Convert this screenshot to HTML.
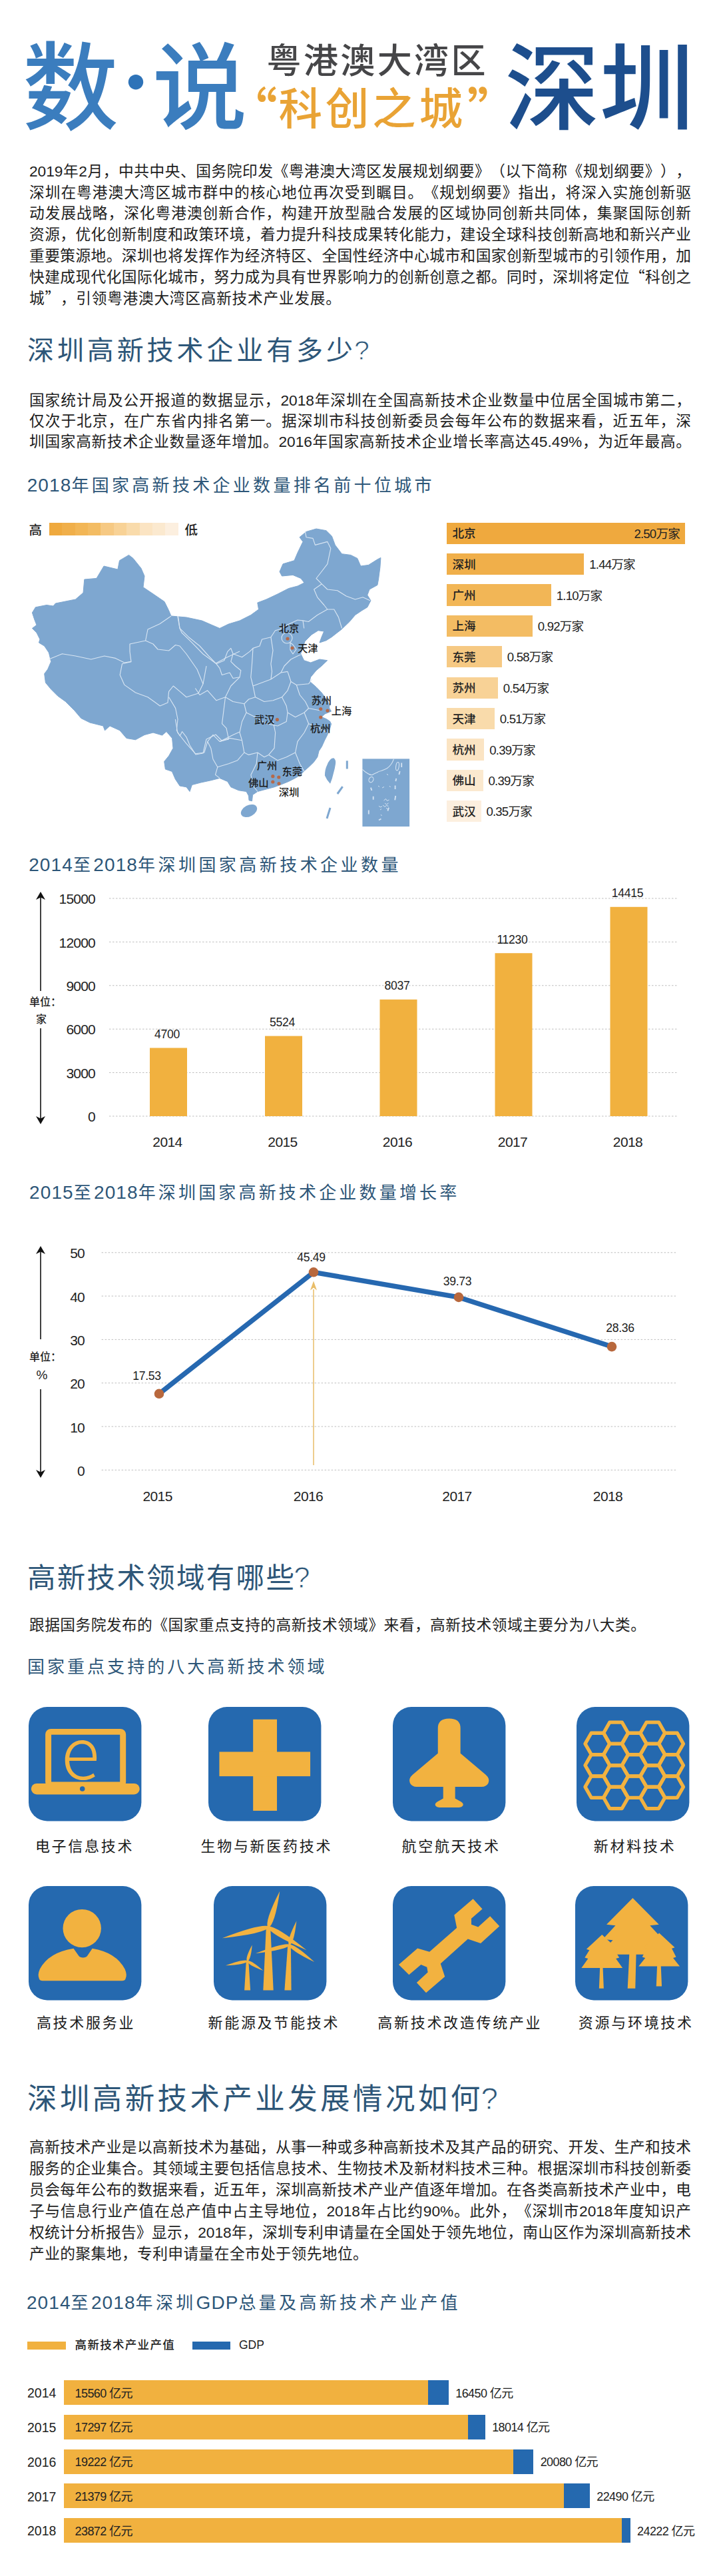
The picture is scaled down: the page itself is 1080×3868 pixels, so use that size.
<!DOCTYPE html>
<html lang="zh-CN">
<head>
<meta charset="utf-8">
<title>数·说 粤港澳大湾区“科创之城”深圳</title>
<style>
html,body{margin:0;padding:0;background:#fff;}
body{text-spacing-trim:space-all;font-family:"Liberation Sans","Noto Sans CJK SC",sans-serif;color:#1e1e1e;}
#p{position:relative;width:1080px;height:3868px;overflow:hidden;background:#fff;}
.t{position:absolute;white-space:nowrap;line-height:1;}
.j{position:absolute;left:44px;width:994px;white-space:nowrap;text-align:justify;text-align-last:justify;line-height:1;font-size:22.7px;color:#1e1e1e;}
.jl{position:absolute;left:44px;white-space:nowrap;line-height:1;font-size:22.7px;color:#1e1e1e;}
.h2{position:absolute;left:41px;white-space:nowrap;line-height:1;font-weight:400;color:#2d5678;}
.h3{position:absolute;left:41px;white-space:nowrap;line-height:1;font-weight:400;color:#2d5678;font-size:26px;letter-spacing:4.3px;}
.h3 i{font-style:normal;letter-spacing:1.1px;font-size:28px;line-height:0;}
.h2 b{font-weight:400;line-height:0;letter-spacing:0;margin-left:-0.07em;font-size:1.03em;-webkit-text-stroke:0.9px #fff;}
.b{position:absolute;}
svg{position:absolute;left:0;top:0;overflow:visible;}
.c{font-family:"Noto Sans CJK SC",sans-serif;line-height:0;}
svg text{font-family:"Liberation Sans","Noto Sans CJK SC",sans-serif;}
</style>
</head>
<body>
<div id="p">
<div class="t" style="top:63.3px;font-size:144.0px;left:34.0px;color:#3b7dbe;font-weight:500;">数</div>
<div class="t" style="top:85.5px;font-size:80.0px;left:204.0px;transform:translateX(-50%);color:#2e73b8;font-weight:900;"><span class="c">·</span></div>
<div class="t" style="top:63.3px;font-size:142.0px;left:229.0px;color:#3b7dbe;font-weight:500;">说</div>
<div class="t" style="top:65.9px;font-size:52.0px;left:400.5px;color:#464648;font-weight:500;letter-spacing:3.40px;">粤港澳大湾区</div>
<div class="t" style="top:131.5px;font-size:65.5px;left:418.5px;color:#e9a335;font-weight:500;letter-spacing:4.80px;">科创之城</div>
<div class="t" style="top:131.3px;font-size:78.0px;left:339.0px;color:#e9a335;font-weight:500;"><span class="c">“</span></div>
<div class="t" style="top:131.3px;font-size:78.0px;left:701.5px;color:#e9a335;font-weight:500;"><span class="c">”</span></div>
<div class="t" style="top:64.3px;font-size:142.0px;left:758.5px;color:#1d4e8d;font-weight:500;">深圳</div>
<div class="j" style="top:245.6px">2019年2月，中共中央、国务院印发《粤港澳大湾区发展规划纲要》（以下简称《规划纲要》），</div>
<div class="j" style="top:277.5px">深圳在粤港澳大湾区城市群中的核心地位再次受到瞩目。《规划纲要》指出，将深入实施创新驱</div>
<div class="j" style="top:309.4px">动发展战略，深化粤港澳创新合作，构建开放型融合发展的区域协同创新共同体，集聚国际创新</div>
<div class="j" style="top:341.3px">资源，优化创新制度和政策环境，着力提升科技成果转化能力，建设全球科技创新高地和新兴产业</div>
<div class="j" style="top:373.2px">重要策源地。深圳也将发挥作为经济特区、全国性经济中心城市和国家创新型城市的引领作用，加</div>
<div class="j" style="top:405.1px">快建成现代化国际化城市，努力成为具有世界影响力的创新创意之都。同时，深圳将定位<span class="c">“</span>科创之</div>
<div class="jl" style="top:437.0px;letter-spacing:0.74px">城<span class="c">”</span>，引领粤港澳大湾区高新技术产业发展。</div>
<div class="h2" style="top:506.0px;font-size:40px;letter-spacing:4.9px">深圳高新技术企业有多少<b>?</b></div>
<div class="j" style="top:589.5px">国家统计局及公开报道的数据显示，2018年深圳在全国高新技术企业数量中位居全国城市第二，</div>
<div class="j" style="top:620.5px">仅次于北京，在广东省内排名第一。据深圳市科技创新委员会每年公布的数据来看，近五年，深</div>
<div class="j" style="top:651.5px">圳国家高新技术企业数量逐年增加。2016年国家高新技术企业增长率高达45.49%，为近年最高。</div>
<div class="h3" style="left:40.7px;top:716.2px;"><i>2018</i>年国家高新技术企业数量排名前十位城市</div>
<svg width="1080" height="3868" viewBox="0 0 1080 3868">
<polygon points="48.4,920.0 53.4,911.8 70.0,908.5 80.0,910.0 83.4,906.0 113.4,900.0 125.0,890.0 126.8,870.0 145.0,868.4 156.0,850.0 176.9,855.0 179.5,841.7 193.5,833.4 200.0,838.4 212.0,853.4 217.0,865.0 215.0,881.7 230.0,891.8 247.0,903.4 253.6,916.8 257.0,925.0 280.0,927.0 303.4,932.0 318.4,938.5 330.0,943.5 343.4,937.0 360.0,932.0 376.8,923.5 388.5,915.0 386.8,905.0 400.0,900.0 417.0,892.0 433.6,883.5 447.0,880.0 457.0,875.0 452.0,868.5 440.0,863.4 423.5,865.0 420.0,858.4 425.0,846.8 442.0,841.7 447.0,830.0 455.0,813.4 450.0,806.7 460.0,798.4 475.0,794.0 490.0,796.7 498.4,805.0 503.4,818.4 513.5,831.7 526.8,833.4 536.8,838.4 541.8,850.0 553.5,848.4 566.9,840.0 571.9,837.4 570.9,851.8 568.5,870.0 566.9,878.5 555.0,885.0 551.8,893.5 556.9,901.8 551.8,911.8 543.5,916.8 533.5,923.5 525.0,933.5 513.0,945.0 498.0,956.7 490.0,961.7 480.0,965.0 483.0,956.7 486.7,948.0 478.0,946.7 468.0,953.0 458.0,963.0 455.0,971.7 451.7,981.7 456.7,991.7 466.7,995.0 480.0,990.0 491.7,991.7 483.0,1000.0 475.0,1006.7 466.7,1016.7 465.0,1023.0 475.0,1031.7 483.0,1040.0 491.7,1051.7 495.0,1058.0 494.5,1063.0 497.5,1068.0 488.0,1072.0 483.0,1076.5 490.0,1079.5 495.5,1083.0 497.5,1087.0 495.0,1096.0 491.0,1105.0 487.9,1111.0 483.4,1121.0 479.0,1127.8 476.8,1136.7 471.2,1144.5 464.5,1151.0 456.7,1157.9 450.0,1164.6 442.3,1169.0 433.4,1173.5 422.3,1178.0 412.0,1181.8 400.0,1185.0 386.9,1188.5 379.5,1193.5 378.5,1202.8 374.0,1201.8 373.5,1195.0 370.0,1188.5 358.5,1186.8 346.8,1181.8 341.8,1173.5 330.0,1168.4 316.8,1171.8 301.8,1175.0 288.4,1178.5 285.0,1188.5 280.0,1181.8 270.0,1180.0 263.4,1170.0 258.4,1158.4 248.4,1155.0 246.7,1143.4 253.6,1135.0 260.0,1123.5 258.6,1108.5 250.0,1098.5 243.6,1104.0 230.0,1100.0 217.0,1103.5 203.5,1110.8 190.0,1108.5 180.0,1096.8 165.0,1090.0 157.5,1096.8 155.0,1090.0 135.0,1085.0 121.8,1078.5 111.8,1066.8 98.4,1053.4 86.7,1045.0 76.7,1035.0 68.4,1025.0 66.7,1011.7 71.7,1005.0 76.7,993.4 73.4,980.0 66.7,970.0 58.4,965.0 60.0,960.0 55.0,950.0 48.4,943.5 55.0,938.5 51.7,930.0" fill="#7ea7d0" stroke="#7ea7d0" stroke-width="1" stroke-linejoin="round"/>
<ellipse cx="374" cy="1217.5" rx="13" ry="8.4" fill="#7ea7d0" transform="rotate(-28 374 1217.5)"/>
<path d="M501.2,1138.3 Q505,1141 504,1147 Q503,1154 501.2,1160 Q499,1170 496,1176.8 Q491,1172 487.9,1164.6 Q488,1155 491.2,1149 Q493,1144 495.7,1141 Q498,1138 501.2,1138.3 Z" fill="#7ea7d0"/>
<g stroke="#7ea7d0" stroke-width="3" fill="none"><path d="M521.3,1142.3 L521.3,1154.5"/><path d="M514.6,1181.2 L506.8,1192"/><path d="M496,1213 L491,1229"/></g>
<rect x="544.4" y="1139.4" width="70.7" height="101.7" fill="#7ea7d0"/>
<g stroke="#dbe8f5" stroke-width="1.1" fill="none" stroke-linecap="round" opacity="0.95"><path d="M544.8,1155.7 Q548,1159 551.3,1160.7 Q555,1163.5 558.8,1163.8 Q562,1161.5 566.3,1160 Q569,1158 572.5,1157.5 Q577,1156 581.3,1153.8 Q585,1151 587.6,1147.5 Q590,1144 591.3,1140"/><ellipse cx="557.5" cy="1170.7" rx="3.3" ry="4.3" transform="rotate(25 557.5 1170.7)"/><ellipse cx="597" cy="1150.7" rx="2.3" ry="6.2" transform="rotate(8 597 1150.7)"/></g>
<g stroke="#dbe8f5" stroke-width="1.9" fill="none" opacity="0.9"><path d="M603.2,1145.6 L603.2,1151.9 M600.6,1158 L599.4,1163 M595.2,1168.8 L594.4,1173.2 M593.6,1179.4 L593.6,1185 M594.2,1195 L593.2,1201.3 M557,1182.6 L558.4,1187 M560.7,1195.7 L560.7,1200.7 M553.8,1216.4 L553.8,1222.6 M569,1231.5 L572.5,1229.5 M584,1212.6 L582.4,1217.6"/></g>
<g stroke="#dbe8f5" stroke-width="1" fill="none" opacity="0.9"><path d="M568,1180 l2,1.5 M574,1183 l3,-1.5 M581,1162 l2,2 M585,1180 l1.5,2 M576.5,1202 l3,-2.5 l2,3 l3,-1.5 M578,1206 l2.5,2 l3,-2 M575,1209 l3,2.5 l2.5,-2 l3,1 M569,1210 l2,2 l3,-1 M571,1216 l2,-1.5 M580,1213 l2,2 M572,1223 l1.5,2"/></g>
<g stroke="#dde9f5" stroke-width="1.15" fill="none" stroke-linejoin="round" opacity="0.95">
<polyline points="73.4,990.0 93.4,981.7 113.4,985.0 136.8,990.0 156.8,985.0 173.5,988.4 186.9,995.0 196.9,993.4"/>
<polyline points="257.0,925.0 240.0,936.8 222.0,945.0 218.6,962.0 195.0,967.0 195.0,978.5 197.0,993.6 183.5,996.7"/>
<polyline points="267.6,925.0 270.0,943.5 273.0,950.0 287.0,963.6 305.0,982.0 324.0,996.0 342.0,986.5 360.0,978.0"/>
<polyline points="218.6,962.0 230.0,967.0 237.0,975.0 253.6,977.0 263.6,968.5 270.0,970.0 280.0,982.0 296.0,1005.0 305.0,1027.0"/>
<polyline points="183.5,996.7 180.2,1013.4 186.9,1028.4 203.5,1040.0 222.0,1046.8 233.6,1055.0 240.3,1060.0 252.0,1055.0 253.6,1038.4 260.3,1030.0 270.3,1038.4 280.0,1046.8 298.0,1041.0 305.0,1027.0 310.0,1000.0"/>
<polyline points="253.6,1046.8 263.6,1063.4 267.0,1080.0 265.3,1096.8 270.3,1105.0 273.6,1098.5 280.0,1106.8 285.0,1119.0 294.0,1133.0 305.0,1131.0 310.0,1110.0 324.0,1103.0 333.0,1112.0 351.0,1103.0 360.0,1099.0"/>
<polyline points="458.4,798.4 460.0,806.7 470.0,808.4 473.4,818.4 491.8,813.4 496.8,823.4 491.8,846.8 481.7,860.0 475.0,868.5 483.4,876.8"/>
<polyline points="483.4,876.8 491.8,885.0 506.8,886.8 520.0,895.0 533.5,900.0 545.0,896.8 556.0,901.8"/>
<polyline points="483.4,876.8 471.7,885.0 476.7,896.8 486.8,908.5 491.8,915.0 501.8,915.0 508.5,926.9 513.5,943.5"/>
<polyline points="491.8,915.0 476.7,923.5 463.4,933.5 455.0,931.9 456.7,943.5"/>
<polyline points="266.7,925.0 270.0,943.4 283.4,956.7 300.0,970.0 313.4,985.0 325.0,996.8"/>
<polyline points="325.0,996.8 336.8,991.8 341.8,978.4 346.8,973.4 350.0,981.7 346.8,993.4 353.5,1000.0 361.8,1006.8 360.0,1016.8 350.0,1018.5 345.0,1010.0 333.4,1013.5 330.0,1003.4 325.0,996.8"/>
<polyline points="350.0,981.7 363.5,986.8 375.0,978.4 380.0,973.4 390.0,970.0 393.5,960.0 406.9,956.7 413.5,946.7 420.0,945.0 432.0,938.0 447.0,931.0 455.0,931.9"/>
<polyline points="380.0,973.4 378.5,996.8 376.8,1016.8 380.0,1030.0 383.5,1046.8"/>
<polyline points="406.9,956.7 410.0,976.7 406.9,996.8 408.5,1008.4 406.9,1020.0"/>
<polyline points="380.0,1030.0 393.5,1025.0 406.9,1020.0 422.0,1010.0 432.0,1008.4"/>
<polyline points="451.7,983.0 447.0,985.0 437.0,990.0 427.0,1000.0 422.0,1010.0"/>
<polyline points="432.0,1008.4 437.0,1023.5 445.3,1028.5 463.6,1026.8 468.6,1020.0"/>
<polyline points="437.0,1023.5 432.0,1036.8 423.5,1046.8 430.2,1060.0 432.0,1070.0"/>
<polyline points="445.3,1028.5 450.3,1043.5 458.6,1053.5 463.6,1063.5"/>
<polyline points="338.5,1046.8 346.8,1030.0 360.0,1016.8"/>
<polyline points="338.5,1046.8 350.0,1053.5 366.8,1056.8 373.5,1050.0 383.5,1046.8 396.9,1053.5 410.2,1051.8 423.5,1046.8"/>
<polyline points="293.4,1033.5 300.0,1043.5 311.7,1036.8 325.0,1051.8 338.5,1046.8"/>
<polyline points="366.8,1056.8 370.0,1070.0 363.5,1083.5 360.0,1100.0 363.5,1111.7"/>
<polyline points="370.0,1070.0 383.5,1076.8 400.0,1086.8 417.0,1090.0 430.2,1083.5 432.0,1070.0"/>
<polyline points="432.0,1070.0 443.6,1076.8 457.0,1070.0 463.6,1063.5 480.3,1066.8"/>
<polyline points="263.4,1080.0 266.7,1100.0 280.0,1116.7 293.4,1131.7 306.8,1130.0 311.8,1113.4 320.0,1103.4 330.0,1113.4 343.5,1110.0 340.0,1093.4 333.5,1086.7 338.5,1046.8"/>
<polyline points="330.0,1113.4 345.0,1108.4 363.5,1111.7 366.8,1130.0 356.8,1141.7 343.5,1146.8 326.8,1151.8 320.0,1140.0 316.8,1123.4 311.8,1113.4"/>
<polyline points="326.8,1151.8 323.5,1163.4 330.0,1168.4"/>
<polyline points="366.8,1130.0 373.5,1133.4 386.9,1130.0 396.9,1136.7 403.6,1133.4"/>
<polyline points="386.9,1130.0 385.2,1146.8 376.9,1163.4 380.2,1180.0 386.9,1188.5"/>
<polyline points="403.6,1133.4 412.0,1123.4 413.6,1100.0 410.2,1083.4"/>
<polyline points="403.6,1133.4 417.0,1141.7 430.3,1136.7 443.6,1130.0 447.0,1113.4 457.0,1100.0 463.6,1086.7 457.0,1070.0"/>
<polyline points="443.6,1130.0 450.3,1146.8 457.0,1158.4"/>
<polyline points="463.6,1086.7 478.0,1092.0 491.0,1100.0"/>
<circle cx="431" cy="958" r="8"/><path d="M436,965 L440,968 L445,975 L440,982 L436,976 Z"/>
</g>
<circle cx="432.0" cy="959.0" r="2.6" fill="#b5694a"/>
<circle cx="439.0" cy="973.0" r="2.6" fill="#b5694a"/>
<circle cx="481.7" cy="1064.5" r="2.6" fill="#b5694a"/>
<circle cx="492.0" cy="1067.0" r="2.6" fill="#b5694a"/>
<circle cx="481.7" cy="1077.0" r="2.6" fill="#b5694a"/>
<circle cx="416.4" cy="1080.6" r="2.6" fill="#b5694a"/>
<circle cx="409.8" cy="1165.7" r="2.6" fill="#b5694a"/>
<circle cx="418.8" cy="1167.0" r="2.6" fill="#b5694a"/>
<circle cx="409.8" cy="1174.0" r="2.6" fill="#b5694a"/>
<circle cx="419.0" cy="1176.6" r="2.6" fill="#b5694a"/>
</svg>
<div class="t" style="top:936.3px;font-size:15.3px;left:418.8px;color:#1a1a1a;font-weight:500;">北京</div>
<div class="t" style="top:965.8px;font-size:15.3px;left:447.0px;color:#1a1a1a;font-weight:500;">天津</div>
<div class="t" style="top:1043.8px;font-size:15.3px;left:467.5px;color:#1a1a1a;font-weight:500;">苏州</div>
<div class="t" style="top:1059.8px;font-size:15.3px;left:497.7px;color:#1a1a1a;font-weight:500;">上海</div>
<div class="t" style="top:1085.8px;font-size:15.3px;left:466.0px;color:#1a1a1a;font-weight:500;">杭州</div>
<div class="t" style="top:1073.4px;font-size:15.3px;left:382.0px;color:#1a1a1a;font-weight:500;">武汉</div>
<div class="t" style="top:1142.4px;font-size:15.3px;left:385.7px;color:#1a1a1a;font-weight:500;">广州</div>
<div class="t" style="top:1150.5px;font-size:15.3px;left:423.5px;color:#1a1a1a;font-weight:500;">东莞</div>
<div class="t" style="top:1167.8px;font-size:15.3px;left:373.0px;color:#1a1a1a;font-weight:500;">佛山</div>
<div class="t" style="top:1181.8px;font-size:15.3px;left:418.8px;color:#1a1a1a;font-weight:500;">深圳</div>
<div class="t" style="top:786.8px;font-size:19.5px;left:43.5px;color:#222;font-weight:500;">高</div>
<div class="t" style="top:786.8px;font-size:19.5px;left:277.5px;color:#222;font-weight:500;">低</div>
<div class="b" style="left:73.7px;top:784.9px;width:19.6px;height:19.3px;background:#efa93e"></div>
<div class="b" style="left:93.1px;top:784.9px;width:19.6px;height:19.3px;background:#f0af4a"></div>
<div class="b" style="left:112.5px;top:784.9px;width:19.6px;height:19.3px;background:#f2b656"></div>
<div class="b" style="left:131.9px;top:784.9px;width:19.6px;height:19.3px;background:#f3bc63"></div>
<div class="b" style="left:151.3px;top:784.9px;width:19.6px;height:19.3px;background:#f6c983"></div>
<div class="b" style="left:170.7px;top:784.9px;width:19.6px;height:19.3px;background:#f8d296"></div>
<div class="b" style="left:190.1px;top:784.9px;width:19.6px;height:19.3px;background:#f9dbab"></div>
<div class="b" style="left:209.5px;top:784.9px;width:19.6px;height:19.3px;background:#fbe4c3"></div>
<div class="b" style="left:228.9px;top:784.9px;width:19.6px;height:19.3px;background:#fbe9cf"></div>
<div class="b" style="left:248.3px;top:784.9px;width:19.6px;height:19.3px;background:#fcefdf"></div>
<div class="b" style="left:671.3px;top:784.5px;width:357.7px;height:32.4px;background:#efa93e"></div>
<div class="t" style="top:793.1px;font-size:17.6px;left:679.5px;color:#222;font-weight:500;">北京</div>
<div class="t" style="top:792.7px;font-size:18.6px;right:59.0px;color:#222;font-weight:400;letter-spacing:-0.80px;">2.50万家</div>
<div class="b" style="left:671.3px;top:830.9px;width:206.2px;height:32.4px;background:#f0af4a"></div>
<div class="t" style="top:839.5px;font-size:17.6px;left:679.5px;color:#222;font-weight:500;">深圳</div>
<div class="t" style="top:839.1px;font-size:18.6px;left:885.3px;color:#222;font-weight:400;letter-spacing:-0.80px;">1.44万家</div>
<div class="b" style="left:671.3px;top:877.3px;width:156.7px;height:32.4px;background:#f2b656"></div>
<div class="t" style="top:885.9px;font-size:17.6px;left:679.5px;color:#222;font-weight:500;">广州</div>
<div class="t" style="top:885.5px;font-size:18.6px;left:835.8px;color:#222;font-weight:400;letter-spacing:-0.80px;">1.10万家</div>
<div class="b" style="left:671.3px;top:923.7px;width:128.7px;height:32.4px;background:#f3bc63"></div>
<div class="t" style="top:932.3px;font-size:17.6px;left:679.5px;color:#222;font-weight:500;">上海</div>
<div class="t" style="top:931.9px;font-size:18.6px;left:807.8px;color:#222;font-weight:400;letter-spacing:-0.80px;">0.92万家</div>
<div class="b" style="left:671.3px;top:970.1px;width:82.7px;height:32.4px;background:#f6c983"></div>
<div class="t" style="top:978.7px;font-size:17.6px;left:679.5px;color:#222;font-weight:500;">东莞</div>
<div class="t" style="top:978.3px;font-size:18.6px;left:761.8px;color:#222;font-weight:400;letter-spacing:-0.80px;">0.58万家</div>
<div class="b" style="left:671.3px;top:1016.5px;width:76.7px;height:32.4px;background:#f8d296"></div>
<div class="t" style="top:1025.1px;font-size:17.6px;left:679.5px;color:#222;font-weight:500;">苏州</div>
<div class="t" style="top:1024.7px;font-size:18.6px;left:755.8px;color:#222;font-weight:400;letter-spacing:-0.80px;">0.54万家</div>
<div class="b" style="left:671.3px;top:1062.9px;width:71.7px;height:32.4px;background:#f9dbab"></div>
<div class="t" style="top:1071.5px;font-size:17.6px;left:679.5px;color:#222;font-weight:500;">天津</div>
<div class="t" style="top:1071.1px;font-size:18.6px;left:750.8px;color:#222;font-weight:400;letter-spacing:-0.80px;">0.51万家</div>
<div class="b" style="left:671.3px;top:1109.3px;width:56.2px;height:32.4px;background:#fbe4c3"></div>
<div class="t" style="top:1117.9px;font-size:17.6px;left:679.5px;color:#222;font-weight:500;">杭州</div>
<div class="t" style="top:1117.5px;font-size:18.6px;left:735.3px;color:#222;font-weight:400;letter-spacing:-0.80px;">0.39万家</div>
<div class="b" style="left:671.3px;top:1155.7px;width:54.4px;height:32.4px;background:#fbe9cf"></div>
<div class="t" style="top:1164.3px;font-size:17.6px;left:679.5px;color:#222;font-weight:500;">佛山</div>
<div class="t" style="top:1163.9px;font-size:18.6px;left:733.5px;color:#222;font-weight:400;letter-spacing:-0.80px;">0.39万家</div>
<div class="b" style="left:671.3px;top:1202.1px;width:51.3px;height:32.4px;background:#fcefdf"></div>
<div class="t" style="top:1210.7px;font-size:17.6px;left:679.5px;color:#222;font-weight:500;">武汉</div>
<div class="t" style="top:1210.3px;font-size:18.6px;left:730.4px;color:#222;font-weight:400;letter-spacing:-0.80px;">0.35万家</div>
<div class="h3" style="left:43.2px;top:1286.0px;letter-spacing:4.45px"><i>2014</i>至<i>2018</i>年深圳国家高新技术企业数量</div>
<svg width="1080" height="3868" viewBox="0 0 1080 3868">
<line x1="164" y1="1349" x2="1018" y2="1349" stroke="#bdbdbd" stroke-width="1" stroke-dasharray="2.5,2.5"/>
<line x1="164" y1="1414.4" x2="1018" y2="1414.4" stroke="#bdbdbd" stroke-width="1" stroke-dasharray="2.5,2.5"/>
<line x1="164" y1="1479.8" x2="1018" y2="1479.8" stroke="#bdbdbd" stroke-width="1" stroke-dasharray="2.5,2.5"/>
<line x1="164" y1="1545.2" x2="1018" y2="1545.2" stroke="#bdbdbd" stroke-width="1" stroke-dasharray="2.5,2.5"/>
<line x1="164" y1="1610.6" x2="1018" y2="1610.6" stroke="#bdbdbd" stroke-width="1" stroke-dasharray="2.5,2.5"/>
<line x1="164" y1="1676" x2="1018" y2="1676" stroke="#bdbdbd" stroke-width="1" stroke-dasharray="2.5,2.5"/>
<g stroke="#111" stroke-width="1.6" fill="#111"><line x1="61" y1="1347" x2="61" y2="1488"/><line x1="61" y1="1544" x2="61" y2="1680"/><path d="M61,1339 l-7,12 l7,-3.5 l7,3.5 z" stroke="none"/><path d="M61,1688 l-7,-12 l7,3.5 l7,-3.5 z" stroke="none"/></g>
<rect x="225.0" y="1573.5" width="56" height="102.5" fill="#f1b13f"/>
<rect x="398.0" y="1555.6" width="56" height="120.4" fill="#f1b13f"/>
<rect x="570.5" y="1500.8" width="56" height="175.2" fill="#f1b13f"/>
<rect x="743.5" y="1431.2" width="56" height="244.8" fill="#f1b13f"/>
<rect x="916.5" y="1361.8" width="56" height="314.2" fill="#f1b13f"/>
</svg>
<div class="t" style="top:1339.1px;font-size:21.0px;right:937.0px;color:#222;font-weight:400;letter-spacing:-0.80px;">15000</div>
<div class="t" style="top:1404.5px;font-size:21.0px;right:937.0px;color:#222;font-weight:400;letter-spacing:-0.80px;">12000</div>
<div class="t" style="top:1469.9px;font-size:21.0px;right:937.0px;color:#222;font-weight:400;letter-spacing:-0.80px;">9000</div>
<div class="t" style="top:1535.3px;font-size:21.0px;right:937.0px;color:#222;font-weight:400;letter-spacing:-0.80px;">6000</div>
<div class="t" style="top:1600.7px;font-size:21.0px;right:937.0px;color:#222;font-weight:400;letter-spacing:-0.80px;">3000</div>
<div class="t" style="top:1666.1px;font-size:21.0px;right:937.0px;color:#222;font-weight:400;letter-spacing:-0.80px;">0</div>
<div class="t" style="top:1545.0px;font-size:17.6px;left:251.0px;transform:translateX(-50%);color:#222;font-weight:400;letter-spacing:-0.30px;">4700</div>
<div class="t" style="top:1704.0px;font-size:21.0px;left:251.5px;transform:translateX(-50%);color:#222;font-weight:400;letter-spacing:-0.60px;">2014</div>
<div class="t" style="top:1527.1px;font-size:17.6px;left:424.0px;transform:translateX(-50%);color:#222;font-weight:400;letter-spacing:-0.30px;">5524</div>
<div class="t" style="top:1704.0px;font-size:21.0px;left:424.5px;transform:translateX(-50%);color:#222;font-weight:400;letter-spacing:-0.60px;">2015</div>
<div class="t" style="top:1472.3px;font-size:17.6px;left:596.5px;transform:translateX(-50%);color:#222;font-weight:400;letter-spacing:-0.30px;">8037</div>
<div class="t" style="top:1704.0px;font-size:21.0px;left:597.0px;transform:translateX(-50%);color:#222;font-weight:400;letter-spacing:-0.60px;">2016</div>
<div class="t" style="top:1402.7px;font-size:17.6px;left:769.5px;transform:translateX(-50%);color:#222;font-weight:400;letter-spacing:-0.30px;">11230</div>
<div class="t" style="top:1704.0px;font-size:21.0px;left:770.0px;transform:translateX(-50%);color:#222;font-weight:400;letter-spacing:-0.60px;">2017</div>
<div class="t" style="top:1333.3px;font-size:17.6px;left:942.5px;transform:translateX(-50%);color:#222;font-weight:400;letter-spacing:-0.30px;">14415</div>
<div class="t" style="top:1704.0px;font-size:21.0px;left:943.0px;transform:translateX(-50%);color:#222;font-weight:400;letter-spacing:-0.60px;">2018</div>
<div class="t" style="top:1496.5px;font-size:16.0px;left:44.0px;color:#222;font-weight:500;">单位：</div>
<div class="t" style="top:1522.5px;font-size:16.0px;left:54.0px;color:#222;font-weight:500;">家</div>
<div class="h3" style="left:44.1px;top:1777.8px;letter-spacing:4.17px"><i>2015</i>至<i>2018</i>年深圳国家高新技术企业数量增长率</div>
<svg width="1080" height="3868" viewBox="0 0 1080 3868">
<line x1="152.6" y1="1880.8" x2="1016" y2="1880.8" stroke="#bdbdbd" stroke-width="1" stroke-dasharray="2.5,2.5"/>
<line x1="152.6" y1="1946.1" x2="1016" y2="1946.1" stroke="#bdbdbd" stroke-width="1" stroke-dasharray="2.5,2.5"/>
<line x1="152.6" y1="2011.4" x2="1016" y2="2011.4" stroke="#bdbdbd" stroke-width="1" stroke-dasharray="2.5,2.5"/>
<line x1="152.6" y1="2076.7" x2="1016" y2="2076.7" stroke="#bdbdbd" stroke-width="1" stroke-dasharray="2.5,2.5"/>
<line x1="152.6" y1="2142" x2="1016" y2="2142" stroke="#bdbdbd" stroke-width="1" stroke-dasharray="2.5,2.5"/>
<line x1="152.6" y1="2207.3" x2="1016" y2="2207.3" stroke="#bdbdbd" stroke-width="1" stroke-dasharray="2.5,2.5"/>
<g stroke="#111" stroke-width="1.6" fill="#111"><line x1="61" y1="1879" x2="61" y2="2011"/><line x1="61" y1="2086" x2="61" y2="2211"/><path d="M61,1871 l-7,12 l7,-3.5 l7,3.5 z" stroke="none"/><path d="M61,2219 l-7,-12 l7,3.5 l7,-3.5 z" stroke="none"/></g>
<line x1="471" y1="2200" x2="471" y2="1936" stroke="#e9bd68" stroke-width="1.5"/>
<path d="M471,1923.5 l-5,14 l5,-4 l5,4 z" fill="#e9bd68"/>
<polyline points="239.0,2092.8 471.0,1910.3 689.0,1947.9 919.0,2022.1" fill="none" stroke="#2668b0" stroke-width="7.4" stroke-linejoin="round" stroke-linecap="round"/>
<circle cx="239" cy="2092.8" r="7.3" fill="#b8683d"/>
<circle cx="471" cy="1910.3" r="7.3" fill="#b8683d"/>
<circle cx="689" cy="1947.9" r="7.3" fill="#b8683d"/>
<circle cx="919" cy="2022.1" r="7.3" fill="#b8683d"/>
</svg>
<div class="t" style="top:1871.3px;font-size:21.0px;right:953.0px;color:#222;font-weight:400;letter-spacing:-0.80px;">50</div>
<div class="t" style="top:1936.6px;font-size:21.0px;right:953.0px;color:#222;font-weight:400;letter-spacing:-0.80px;">40</div>
<div class="t" style="top:2001.9px;font-size:21.0px;right:953.0px;color:#222;font-weight:400;letter-spacing:-0.80px;">30</div>
<div class="t" style="top:2067.2px;font-size:21.0px;right:953.0px;color:#222;font-weight:400;letter-spacing:-0.80px;">20</div>
<div class="t" style="top:2132.5px;font-size:21.0px;right:953.0px;color:#222;font-weight:400;letter-spacing:-0.80px;">10</div>
<div class="t" style="top:2197.8px;font-size:21.0px;right:953.0px;color:#222;font-weight:400;letter-spacing:-0.80px;">0</div>
<div class="t" style="top:2057.7px;font-size:17.6px;left:220.5px;transform:translateX(-50%);color:#222;font-weight:400;letter-spacing:-0.30px;">17.53</div>
<div class="t" style="top:1879.7px;font-size:17.6px;left:467.5px;transform:translateX(-50%);color:#222;font-weight:400;letter-spacing:-0.30px;">45.49</div>
<div class="t" style="top:1915.7px;font-size:17.6px;left:687.0px;transform:translateX(-50%);color:#222;font-weight:400;letter-spacing:-0.30px;">39.73</div>
<div class="t" style="top:1985.7px;font-size:17.6px;left:931.5px;transform:translateX(-50%);color:#222;font-weight:400;letter-spacing:-0.30px;">28.36</div>
<div class="t" style="top:2235.5px;font-size:21.0px;left:236.6px;transform:translateX(-50%);color:#222;font-weight:400;letter-spacing:-0.60px;">2015</div>
<div class="t" style="top:2235.5px;font-size:21.0px;left:463.0px;transform:translateX(-50%);color:#222;font-weight:400;letter-spacing:-0.60px;">2016</div>
<div class="t" style="top:2235.5px;font-size:21.0px;left:686.5px;transform:translateX(-50%);color:#222;font-weight:400;letter-spacing:-0.60px;">2017</div>
<div class="t" style="top:2235.5px;font-size:21.0px;left:913.0px;transform:translateX(-50%);color:#222;font-weight:400;letter-spacing:-0.60px;">2018</div>
<div class="t" style="top:2030.1px;font-size:16.0px;left:44.0px;color:#222;font-weight:500;">单位：</div>
<div class="t" style="top:2054.5px;font-size:19.0px;left:63.0px;transform:translateX(-50%);color:#222;font-weight:400;">%</div>
<div class="h2" style="top:2349.0px;font-size:42.5px;letter-spacing:2.3px">高新技术领域有哪些<b>?</b></div>
<div class="jl" style="top:2429.3px;letter-spacing:0.47px">跟据国务院发布的《国家重点支持的高新技术领域》来看，高新技术领域主要分为八大类。</div>
<div class="h3" style="left:40.9px;top:2489.8px;letter-spacing:4.05px">国家重点支持的八大高新技术领域</div>
<svg style="left:43.2px;top:2563.3px" width="169.4" height="171.4" viewBox="0 0 170 172">
<rect x="0" y="0" width="170" height="172" rx="28" ry="28" fill="#2569af"/>
<rect x="29.7" y="37.5" width="112.5" height="80" rx="4" fill="none" stroke="#f2b240" stroke-width="9"/><rect x="3.9" y="115.3" width="163.4" height="16.7" rx="8.3" fill="#f2b240"/><circle cx="81" cy="123.5" r="3.8" fill="#2569af"/><text x="78" y="109.2" font-size="108" text-anchor="middle" fill="#f2b240" style="font-family:'Noto Sans CJK SC',sans-serif;font-weight:300">e</text>
</svg>
<svg style="left:312.6px;top:2563.3px" width="169.4" height="171.4" viewBox="0 0 170 172">
<rect x="0" y="0" width="170" height="172" rx="28" ry="28" fill="#2569af"/>
<rect x="67.4" y="18.8" width="36" height="137.7" fill="#f2b240"/><rect x="16.5" y="67.7" width="137.1" height="36.8" fill="#f2b240"/>
</svg>
<svg style="left:590.0px;top:2563.3px" width="169.4" height="171.4" viewBox="0 0 170 172">
<rect x="0" y="0" width="170" height="172" rx="28" ry="28" fill="#2569af"/>
<path d="M68,32 Q68,17.5 85,17.5 Q102,17.5 102,32 L102,70 L140,102 Q147,108 144,115 Q141,120.5 134,120.5 L94,120.5 L94,138 L103,143 Q107.5,146 105.5,149 Q104,151.5 100,151.5 L70,151.5 Q66,151.5 64.5,149 Q62.5,146 67,143 L76,138 L76,120.5 L36,120.5 Q29,120.5 26,115 Q23,108 30,102 L68,70 Z" fill="#f2b240"/>
</svg>
<svg style="left:865.5px;top:2563.3px" width="169.4" height="171.4" viewBox="0 0 170 172">
<rect x="0" y="0" width="170" height="172" rx="28" ry="28" fill="#2569af"/>
<g fill="none" stroke="#f2b240" stroke-width="5.3" stroke-linejoin="round"><polygon points="50.0,55.6 40.8,71.8 22.3,71.8 13.0,55.6 22.2,39.4 40.8,39.4"/><polygon points="50.0,88.1 40.8,104.3 22.3,104.3 13.0,88.1 22.2,71.9 40.8,71.9"/><polygon points="50.0,120.6 40.8,136.8 22.3,136.8 13.0,120.6 22.2,104.4 40.8,104.4"/><polygon points="77.8,39.4 68.5,55.6 50.0,55.6 40.8,39.4 50.0,23.1 68.5,23.1"/><polygon points="77.8,71.8 68.5,88.1 50.0,88.1 40.8,71.8 50.0,55.6 68.5,55.6"/><polygon points="77.8,104.3 68.5,120.6 50.0,120.6 40.8,104.3 50.0,88.1 68.5,88.1"/><polygon points="77.8,136.8 68.5,153.1 50.0,153.1 40.8,136.8 50.0,120.6 68.5,120.6"/><polygon points="105.5,55.6 96.2,71.8 77.8,71.8 68.5,55.6 77.7,39.4 96.2,39.4"/><polygon points="105.5,88.1 96.2,104.3 77.8,104.3 68.5,88.1 77.7,71.9 96.2,71.9"/><polygon points="105.5,120.6 96.2,136.8 77.8,136.8 68.5,120.6 77.7,104.4 96.2,104.4"/><polygon points="133.2,39.4 124.0,55.6 105.5,55.6 96.2,39.4 105.5,23.1 124.0,23.1"/><polygon points="133.2,71.8 124.0,88.1 105.5,88.1 96.2,71.8 105.5,55.6 124.0,55.6"/><polygon points="133.2,104.3 124.0,120.6 105.5,120.6 96.2,104.3 105.5,88.1 124.0,88.1"/><polygon points="133.2,136.8 124.0,153.1 105.5,153.1 96.2,136.8 105.5,120.6 124.0,120.6"/><polygon points="161.0,55.6 151.8,71.8 133.2,71.8 124.0,55.6 133.2,39.4 151.8,39.4"/><polygon points="161.0,88.1 151.8,104.3 133.2,104.3 124.0,88.1 133.2,71.9 151.8,71.9"/><polygon points="161.0,120.6 151.8,136.8 133.2,136.8 124.0,120.6 133.2,104.4 151.8,104.4"/></g>
</svg>
<svg style="left:43.2px;top:2831.5px" width="169.4" height="171.4" viewBox="0 0 170 172">
<rect x="0" y="0" width="170" height="172" rx="28" ry="28" fill="#2569af"/>
<circle cx="80.5" cy="63.8" r="28.8" fill="#f2b240"/><path d="M67.7,94 Q30,100 17,125 Q13,134 16,140 Q17,142.8 21,142.8 L141,142.8 Q145,142.8 146,140 Q149,134 145,125 Q132,100 96,94 L88.5,105 Q86.5,107.8 82,107.8 Q77.5,107.8 75.5,105 Z" fill="#f2b240"/>
</svg>
<svg style="left:321.2px;top:2831.5px" width="169.4" height="171.4" viewBox="0 0 170 172">
<rect x="0" y="0" width="170" height="172" rx="28" ry="28" fill="#2569af"/>
<polygon points="79.1,61.8 85.5,61.8 90.0,157.0 74.6,157.0" fill="#f2b240"/><path d="M81.8,63.4 Q92.2,59.0 99.6,7.7 Q75.9,53.8 81.8,63.4 Z" fill="#f2b240"/><path d="M84.4,61.3 Q73.4,55.2 12.9,78.5 Q77.4,71.8 84.4,61.3 Z" fill="#f2b240"/><path d="M80.6,60.8 Q83.7,72.6 140.0,96.5 Q92.5,57.9 80.6,60.8 Z" fill="#f2b240"/><polygon points="111.7,88.8 116.3,88.8 117.0,157.0 106.8,157.0" fill="#f2b240"/><path d="M113.7,89.9 Q121.0,87.0 124.8,52.8 Q109.2,83.4 113.7,89.9 Z" fill="#f2b240"/><path d="M115.5,88.4 Q107.4,84.1 63.0,101.6 Q110.4,96.1 115.5,88.4 Z" fill="#f2b240"/><path d="M112.9,88.0 Q114.3,96.5 151.8,114.5 Q121.3,86.3 112.9,88.0 Z" fill="#f2b240"/><polygon points="49.0,113.0 52.5,113.0 55.3,157.0 46.3,157.0" fill="#f2b240"/><path d="M50.5,113.7 Q56.0,111.9 57.9,88.8 Q46.9,109.2 50.5,113.7 Z" fill="#f2b240"/><path d="M51.7,112.8 Q46.5,109.0 18.0,119.7 Q48.4,118.3 51.7,112.8 Z" fill="#f2b240"/><path d="M50.0,112.6 Q50.6,118.5 74.6,127.4 Q55.5,110.4 50.0,112.6 Z" fill="#f2b240"/>
</svg>
<svg style="left:589.8px;top:2831.5px" width="169.4" height="171.4" viewBox="0 0 170 172">
<rect x="0" y="0" width="170" height="172" rx="28" ry="28" fill="#2569af"/>
<polygon points="121.0,19.3 135.0,34.7 118.4,48.9 118.4,57.9 128.7,61.8 146.7,45.5 160.8,60.5 132.5,86.2 113.2,79.8 72.0,117.0 78.5,136.4 50.2,160.8 36.0,145.4 52.8,130.0 51.5,122.2 42.5,118.4 24.4,133.8 9.0,118.4 37.3,93.9 55.3,99.0 96.5,63.0 92.6,43.7" fill="#f2b240"/>
</svg>
<svg style="left:864.4px;top:2831.5px" width="169.4" height="171.4" viewBox="0 0 170 172">
<rect x="0" y="0" width="170" height="172" rx="28" ry="28" fill="#2569af"/>
<polygon points="86.7,18.0 47.2,58.0 60.7,59.5 41.7,80.0 56.7,81.5 36.7,103.0 136.7,103.0 116.7,81.5 131.7,80.0 112.7,59.5 126.2,58.0" fill="#f2b240"/><polygon points="81.6,102.0 91.9,102.0 90.6,154.4 79.0,154.4" fill="#f2b240"/><polygon points="40.4,73.3 16.9,95.2 21.4,96.7 14.4,108.0 19.4,109.5 9.4,123.5 71.4,123.5 61.4,109.5 66.4,108.0 59.4,96.7 63.9,95.2" fill="#f2b240"/><polygon points="37.3,123.0 41.7,123.0 43.0,154.4 36.0,154.4" fill="#f2b240"/><polygon points="126.6,70.8 103.1,92.6 107.6,94.1 101.1,106.8 105.6,108.3 95.6,121.0 157.6,121.0 147.6,108.3 152.1,106.8 145.6,94.1 150.1,92.6" fill="#f2b240"/><polygon points="123.5,120.5 129.2,120.5 130.5,151.0 122.2,151.0" fill="#f2b240"/>
</svg>
<div class="t" style="top:2762.2px;font-size:22.0px;left:127.0px;transform:translateX(-50%);color:#1a1a1a;font-weight:400;letter-spacing:2.70px;">电子信息技术</div>
<div class="t" style="top:2762.2px;font-size:22.0px;left:400.3px;transform:translateX(-50%);color:#1a1a1a;font-weight:400;letter-spacing:2.70px;">生物与新医药技术</div>
<div class="t" style="top:2762.2px;font-size:22.0px;left:677.6px;transform:translateX(-50%);color:#1a1a1a;font-weight:400;letter-spacing:2.70px;">航空航天技术</div>
<div class="t" style="top:2762.2px;font-size:22.0px;left:953.6px;transform:translateX(-50%);color:#1a1a1a;font-weight:400;letter-spacing:2.70px;">新材料技术</div>
<div class="t" style="top:3026.7px;font-size:22.0px;left:129.0px;transform:translateX(-50%);color:#1a1a1a;font-weight:400;letter-spacing:2.70px;">高技术服务业</div>
<div class="t" style="top:3026.7px;font-size:22.0px;left:411.3px;transform:translateX(-50%);color:#1a1a1a;font-weight:400;letter-spacing:2.70px;">新能源及节能技术</div>
<div class="t" style="top:3026.7px;font-size:22.0px;left:690.8px;transform:translateX(-50%);color:#1a1a1a;font-weight:400;letter-spacing:2.70px;">高新技术改造传统产业</div>
<div class="t" style="top:3026.7px;font-size:22.0px;left:955.3px;transform:translateX(-50%);color:#1a1a1a;font-weight:400;letter-spacing:2.70px;">资源与环境技术</div>
<div class="h2" style="top:3130.1px;font-size:44.5px;letter-spacing:4.4px">深圳高新技术产业发展情况如何<b>?</b></div>
<div class="j" style="top:3213.3px">高新技术产业是以高新技术为基础，从事一种或多种高新技术及其产品的研究、开发、生产和技术</div>
<div class="j" style="top:3245.3px">服务的企业集合。其领域主要包括信息技术、生物技术及新材料技术三种。根据深圳市科技创新委</div>
<div class="j" style="top:3277.3px">员会每年公布的数据来看，近五年，深圳高新技术产业产值逐年增加。在各类高新技术产业中，电</div>
<div class="j" style="top:3309.3px">子与信息行业产值在总产值中占主导地位，2018年占比约90%。此外，《深圳市2018年度知识产</div>
<div class="j" style="top:3341.3px">权统计分析报告》显示，2018年，深圳专利申请量在全国处于领先地位，南山区作为深圳高新技术</div>
<div class="jl" style="top:3373.3px;letter-spacing:0.46px">产业的聚集地，专利申请量在全市处于领先地位。</div>
<div class="h3" style="left:39.9px;top:3444.5px;"><i>2014</i>至<i>2018</i>年深圳<i>GDP</i>总量及高新技术产业产值</div>
<div class="b" style="left:41px;top:3515.5px;width:58px;height:12px;background:#f1b13f"></div>
<div class="t" style="top:3513.2px;font-size:17.5px;left:112.6px;color:#222;font-weight:500;letter-spacing:1.30px;">高新技术产业产值</div>
<div class="b" style="left:289px;top:3515.5px;width:56.5px;height:12px;background:#2569af"></div>
<div class="t" style="top:3512.7px;font-size:17.5px;left:359.0px;color:#222;font-weight:400;">GDP</div>
<div class="b" style="left:96.4px;top:3574.2px;width:577.4px;height:36.9px;background:#2569af"></div>
<div class="b" style="left:96.4px;top:3574.2px;width:546.2px;height:36.9px;background:#f1b13f"></div>
<div class="t" style="top:3584.3px;font-size:19.5px;left:41.0px;color:#222;font-weight:400;">2014</div>
<div class="t" style="top:3584.6px;font-size:18.0px;left:112.6px;color:#222;font-weight:400;letter-spacing:-0.60px;">15560 亿元</div>
<div class="t" style="top:3584.6px;font-size:18.0px;left:684.3px;color:#222;font-weight:400;letter-spacing:-0.60px;">16450 亿元</div>
<div class="b" style="left:96.4px;top:3625.9px;width:632.3px;height:36.9px;background:#2569af"></div>
<div class="b" style="left:96.4px;top:3625.9px;width:607.1px;height:36.9px;background:#f1b13f"></div>
<div class="t" style="top:3636.1px;font-size:19.5px;left:41.0px;color:#222;font-weight:400;">2015</div>
<div class="t" style="top:3636.4px;font-size:18.0px;left:112.6px;color:#222;font-weight:400;letter-spacing:-0.60px;">17297 亿元</div>
<div class="t" style="top:3636.4px;font-size:18.0px;left:739.2px;color:#222;font-weight:400;letter-spacing:-0.60px;">18014 亿元</div>
<div class="b" style="left:96.4px;top:3677.7px;width:704.8px;height:36.9px;background:#2569af"></div>
<div class="b" style="left:96.4px;top:3677.7px;width:674.7px;height:36.9px;background:#f1b13f"></div>
<div class="t" style="top:3687.8px;font-size:19.5px;left:41.0px;color:#222;font-weight:400;">2016</div>
<div class="t" style="top:3688.1px;font-size:18.0px;left:112.6px;color:#222;font-weight:400;letter-spacing:-0.60px;">19222 亿元</div>
<div class="t" style="top:3688.1px;font-size:18.0px;left:811.7px;color:#222;font-weight:400;letter-spacing:-0.60px;">20080 亿元</div>
<div class="b" style="left:96.4px;top:3729.4px;width:789.4px;height:36.9px;background:#2569af"></div>
<div class="b" style="left:96.4px;top:3729.4px;width:750.4px;height:36.9px;background:#f1b13f"></div>
<div class="t" style="top:3739.6px;font-size:19.5px;left:41.0px;color:#222;font-weight:400;">2017</div>
<div class="t" style="top:3739.9px;font-size:18.0px;left:112.6px;color:#222;font-weight:400;letter-spacing:-0.60px;">21379 亿元</div>
<div class="t" style="top:3739.9px;font-size:18.0px;left:896.3px;color:#222;font-weight:400;letter-spacing:-0.60px;">22490 亿元</div>
<div class="b" style="left:96.4px;top:3781.2px;width:850.2px;height:36.9px;background:#2569af"></div>
<div class="b" style="left:96.4px;top:3781.2px;width:837.9px;height:36.9px;background:#f1b13f"></div>
<div class="t" style="top:3791.3px;font-size:19.5px;left:41.0px;color:#222;font-weight:400;">2018</div>
<div class="t" style="top:3791.6px;font-size:18.0px;left:112.6px;color:#222;font-weight:400;letter-spacing:-0.60px;">23872 亿元</div>
<div class="t" style="top:3791.6px;font-size:18.0px;left:957.1px;color:#222;font-weight:400;letter-spacing:-0.60px;">24222 亿元</div>
</div>
</body>
</html>
